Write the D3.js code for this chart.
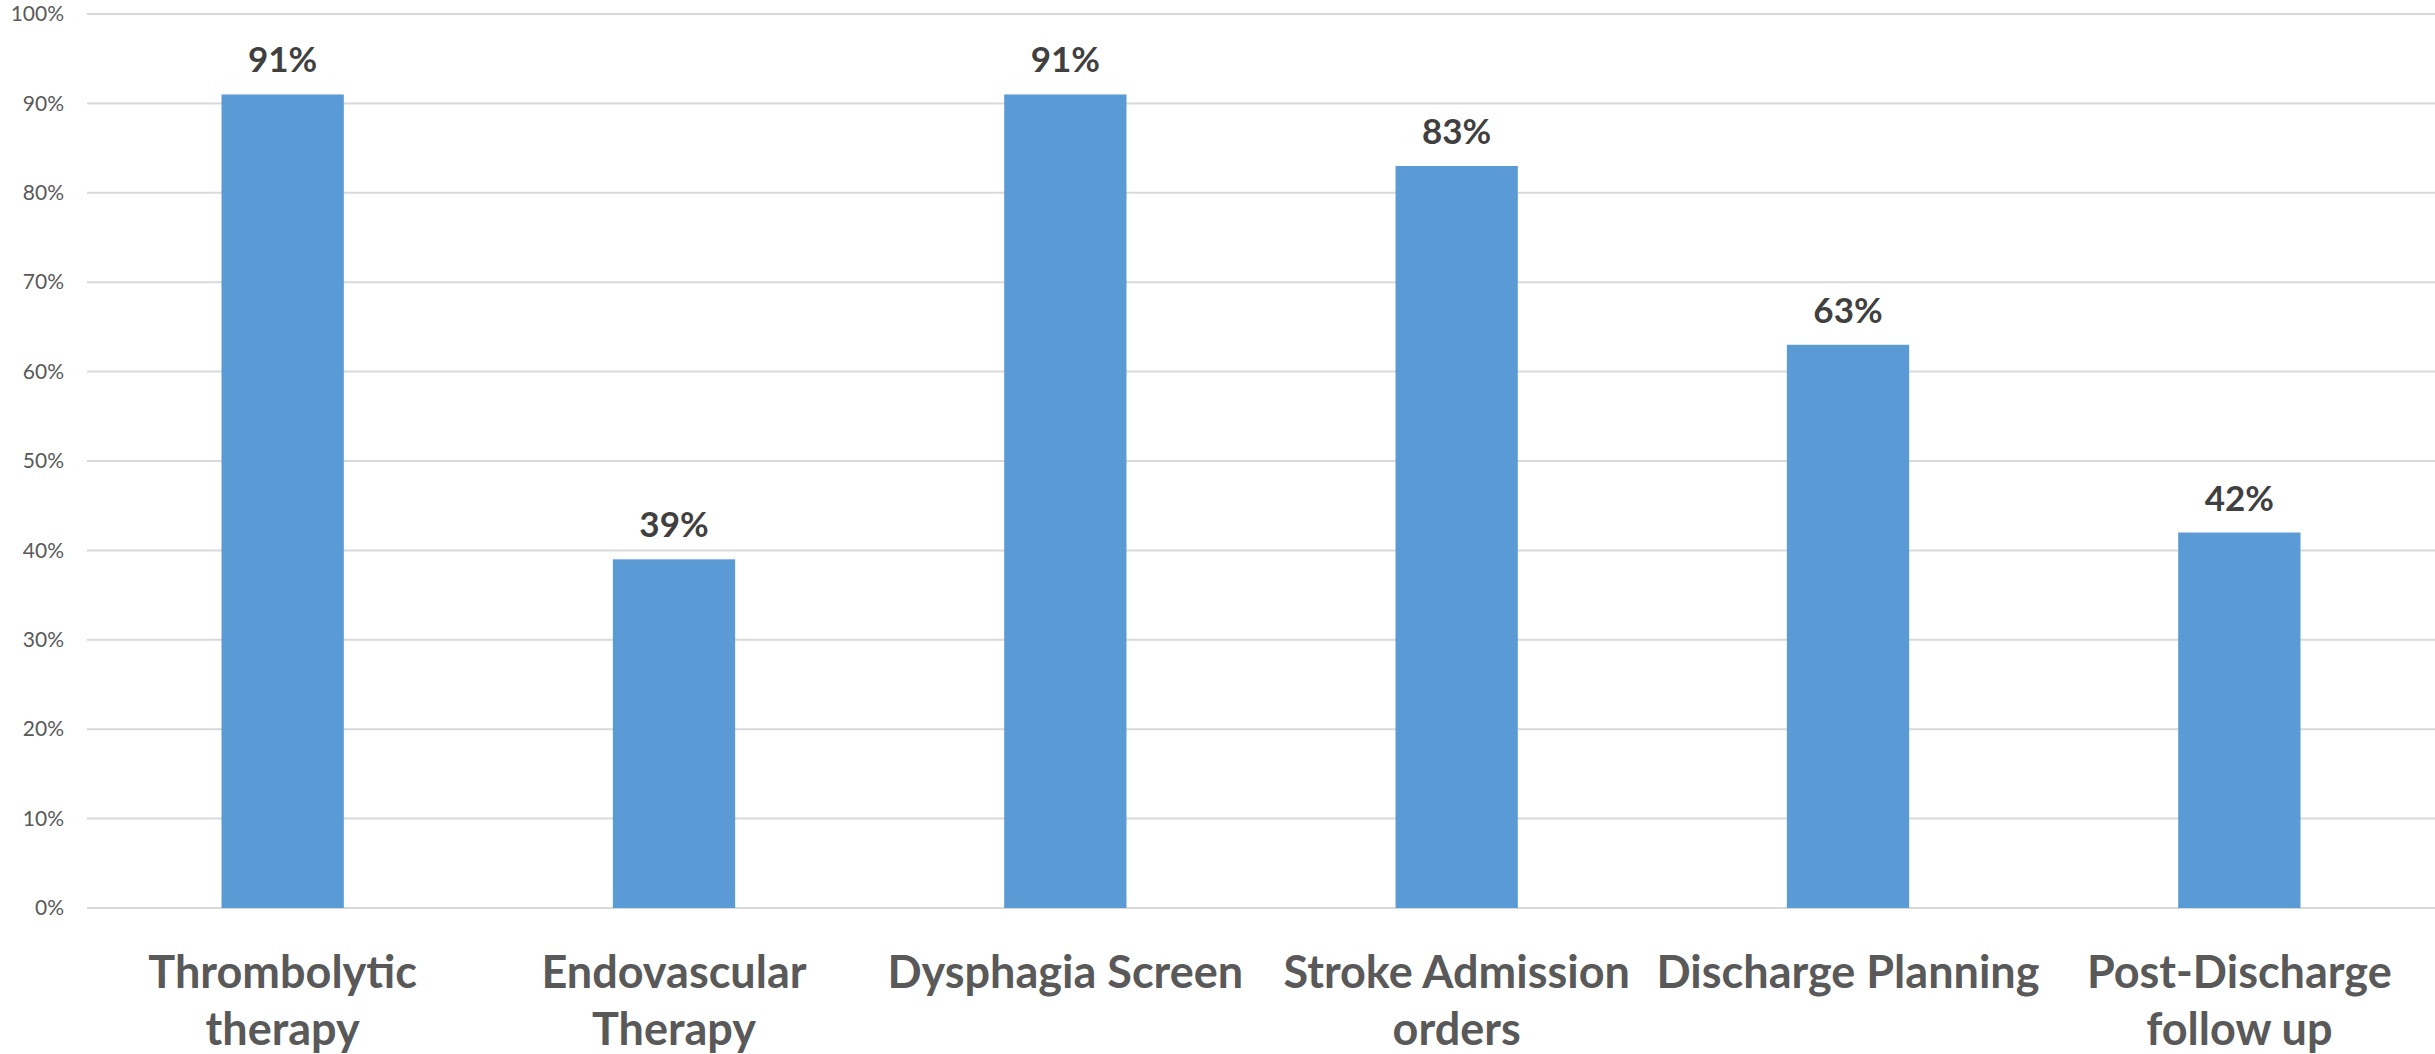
<!DOCTYPE html>
<html>
<head>
<meta charset="utf-8">
<script src="https://cdn.jsdelivr.net/npm/d3@7"></script>
<style>
  html, body { margin: 0; padding: 0; background: #fff; }
  svg { display: block; }
</style>
</head>
<body>
<svg id="chart" width="2435" height="1054"></svg>
<script>
// Stroke care measures: share of compliant cases
const categories = [
  ["Thrombolytic", "therapy"],
  ["Endovascular", "Therapy"],
  ["Dysphagia Screen"],
  ["Stroke Admission", "orders"],
  ["Discharge Planning"],
  ["Post-Discharge", "follow up"]
];
const values = [91, 39, 91, 83, 63, 42];
const yTicks = [0, 10, 20, 30, 40, 50, 60, 70, 80, 90, 100];

const W = 2435, H = 1054;
const margin = { top: 14, right: 0, bottom: 146, left: 87 };
const plotW = W - margin.left - margin.right;
const plotH = H - margin.top - margin.bottom;

const svg = d3.select("#chart");
const g = svg.append("g").attr("transform", `translate(${margin.left},${margin.top})`);

const x = d3.scaleBand().domain(d3.range(categories.length)).range([0, plotW]).padding(0);
const y = d3.scaleLinear().domain([0, 100]).range([plotH, 0]);
const barW = x.bandwidth() * 0.3125;

// horizontal gridlines
g.append("g")
  .selectAll("line")
  .data(yTicks)
  .join("line")
  .attr("x1", 0).attr("x2", plotW)
  .attr("y1", d => y(d)).attr("y2", d => y(d))
  .attr("stroke", "#d9d9d9")
  .attr("stroke-width", 2);

// y axis labels
const yAxis = d3.axisLeft(y).tickValues(yTicks).tickFormat(d => d + "%").tickSize(0).tickPadding(23);
const ya = g.append("g").call(yAxis);
ya.select(".domain").remove();
ya.selectAll("text")
  .attr("font-family", "Lato, 'Open Sans', sans-serif")
  .attr("font-size", 21)
  .attr("fill", "#595959");

// bars
g.append("g")
  .selectAll("rect")
  .data(values)
  .join("rect")
  .attr("x", (d, i) => x(i) + (x.bandwidth() - barW) / 2)
  .attr("y", d => y(d))
  .attr("width", barW)
  .attr("height", d => plotH - y(d))
  .attr("fill", "#5b9bd5");

// value labels
g.append("g")
  .selectAll("text")
  .data(values)
  .join("text")
  .attr("x", (d, i) => x(i) + x.bandwidth() / 2)
  .attr("y", d => y(d) - 22)
  .attr("text-anchor", "middle")
  .attr("font-family", "Lato, 'Open Sans', sans-serif")
  .attr("font-weight", "bold")
  .attr("font-size", 35)
  .attr("fill", "#404040")
  .text(d => d + "%");

// category labels
const cat = g.append("g")
  .selectAll("text")
  .data(categories)
  .join("text")
  .attr("x", (d, i) => x(i) + x.bandwidth() / 2)
  .attr("y", plotH + 80)
  .attr("text-anchor", "middle")
  .attr("font-family", "Lato, 'Open Sans', sans-serif")
  .attr("font-weight", "bold")
  .attr("font-size", 45)
  .attr("fill", "#595959");
cat.selectAll("tspan")
  .data(d => d)
  .join("tspan")
  .attr("x", function () { return d3.select(this.parentNode).attr("x"); })
  .attr("dy", (d, i) => i === 0 ? 0 : 57)
  .text(d => d);
</script>
</body>
</html>
